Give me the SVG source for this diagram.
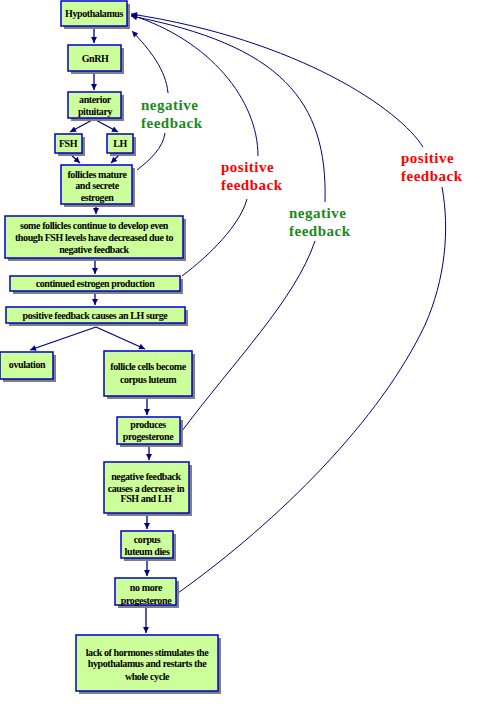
<svg xmlns="http://www.w3.org/2000/svg" width="492" height="704" viewBox="0 0 492 704">
<defs>
<marker id="ah" viewBox="0 0 10 10" refX="10" refY="5" markerWidth="7" markerHeight="6" orient="auto" markerUnits="userSpaceOnUse">
<path d="M0,0 L10,5 L0,10 z" fill="#000080"/>
</marker>
<style>
.sh{fill:#808080}
.bx{fill:#ccff99;stroke:#0000cc;stroke-width:1.5}
.t{font-family:"Liberation Serif","Times New Roman",serif;font-weight:bold;font-size:10px;letter-spacing:-0.4px;text-anchor:middle;fill:#000}
.c{fill:none;stroke:#000080;stroke-width:1.3;marker-end:url(#ah)}
.f{fill:none;stroke:#000080;stroke-width:1}
.fa{fill:none;stroke:#000080;stroke-width:1;marker-end:url(#ah)}
.lb{font-family:"Liberation Serif","Times New Roman",serif;font-weight:bold;font-size:15px;letter-spacing:0.5px}
.g{fill:#1a8a1a}
.r{fill:#ff0000}
</style>
</defs>
<rect width="492" height="704" fill="#fff"/>
<g id="connectors">
<path class="c" d="M94,27 L94,43"/>
<path class="c" d="M94,72 L94,90"/>
<path class="c" d="M94,119 L70,132"/>
<path class="c" d="M94,119 L118,132"/>
<path class="c" d="M70,154 L80,163"/>
<path class="c" d="M120,154 L111,163"/>
<path class="c" d="M96,205 L96,214"/>
<path class="c" d="M95,259 L95,274"/>
<path class="c" d="M95,292 L95,305"/>
<path class="c" d="M96,327 L30,350"/>
<path class="c" d="M96,327 L145,349"/>
<path class="c" d="M147,397 L147,415"/>
<path class="c" d="M149,445 L149,460"/>
<path class="c" d="M147,514 L147,529"/>
<path class="c" d="M147,559 L147,576"/>
<path class="c" d="M146,606 L146,633"/>
<path class="f" d="M137,170 C150,160 163,148 165,133"/>
<path class="fa" d="M168,93 C166,70 150,50 132,31"/>
<path class="f" d="M182,276 C210,255 240,225 247,199"/>
<path class="fa" d="M258,156 C258,100 210,40 131,15"/>
<path class="f" d="M182,431 C235,360 295,300 315,241"/>
<path class="fa" d="M325,202 C328,100 280,45 131,16"/>
<path class="f" d="M178,593 C280,520 380,420 425,325 C445,280 450,230 442,187"/>
<path class="fa" d="M423,147 C400,110 300,40 131,14"/>
</g>
<g id="labels">
<text class="lb g" x="141" y="110">negative</text>
<text class="lb g" x="141" y="128">feedback</text>
<text class="lb r" x="221" y="172">positive</text>
<text class="lb r" x="221" y="190">feedback</text>
<text class="lb g" x="289" y="218">negative</text>
<text class="lb g" x="289" y="236">feedback</text>
<text class="lb r" x="401" y="163">positive</text>
<text class="lb r" x="401" y="181">feedback</text>
</g>
<g id="n1"><rect class="sh" x="64" y="4" width="66" height="25"/><rect class="bx" x="61" y="1" width="66" height="25"/><text class="t" x="94" y="17">Hypothalamus</text></g>
<g id="n2"><rect class="sh" x="71" y="48" width="53" height="26"/><rect class="bx" x="68" y="45" width="53" height="26"/><text class="t" x="95" y="62">GnRH</text></g>
<g id="n3"><rect class="sh" x="71" y="95" width="53" height="26"/><rect class="bx" x="68" y="92" width="53" height="26"/><text class="t" x="95" y="103">anterior</text><text class="t" x="95" y="115">pituitary</text></g>
<g id="n4"><rect class="sh" x="58" y="137" width="27" height="19"/><rect class="bx" x="55" y="134" width="27" height="19"/><text class="t" x="68" y="147">FSH</text></g>
<g id="n5"><rect class="sh" x="110" y="137" width="26" height="19"/><rect class="bx" x="107" y="134" width="26" height="19"/><text class="t" x="120" y="147">LH</text></g>
<g id="n6"><rect class="sh" x="64" y="168" width="71" height="39"/><rect class="bx" x="61" y="165" width="71" height="39"/><text class="t" x="97" y="178">follicles mature</text><text class="t" x="97" y="189">and secrete</text><text class="t" x="97" y="201">estrogen</text></g>
<g id="n7"><rect class="sh" x="8" y="219" width="178" height="42"/><rect class="bx" x="5" y="216" width="178" height="42"/><text class="t" x="94" y="229">some follicles continue to develop even</text><text class="t" x="94" y="241">though FSH levels have decreased due to</text><text class="t" x="94" y="253">negative feedback</text></g>
<g id="n8"><rect class="sh" x="13" y="279" width="170" height="15"/><rect class="bx" x="10" y="276" width="170" height="15"/><text class="t" x="95" y="287">continued estrogen production</text></g>
<g id="n9"><rect class="sh" x="9" y="310" width="179" height="16"/><rect class="bx" x="6" y="307" width="179" height="16"/><text class="t" x="95" y="319">positive feedback causes an LH surge</text></g>
<g id="n10"><rect class="sh" x="3" y="355" width="53" height="27"/><rect class="bx" x="0" y="352" width="53" height="27"/><text class="t" x="27" y="368">ovulation</text></g>
<g id="n11"><rect class="sh" x="107" y="354" width="88" height="45"/><rect class="bx" x="104" y="351" width="88" height="45"/><text class="t" x="148" y="370">follicle cells become</text><text class="t" x="148" y="383">corpus luteum</text></g>
<g id="n12"><rect class="sh" x="120" y="420" width="63" height="27"/><rect class="bx" x="117" y="417" width="63" height="27"/><text class="t" x="148" y="428">produces</text><text class="t" x="148" y="440">progesterone</text></g>
<g id="n13"><rect class="sh" x="107" y="465" width="85" height="51"/><rect class="bx" x="104" y="462" width="85" height="51"/><text class="t" x="146" y="480">negative feedback</text><text class="t" x="146" y="492">causes a decrease in</text><text class="t" x="146" y="502">FSH and LH</text></g>
<g id="n14"><rect class="sh" x="124" y="534" width="52" height="27"/><rect class="bx" x="121" y="531" width="52" height="27"/><text class="t" x="147" y="543">corpus</text><text class="t" x="147" y="555">luteum dies</text></g>
<g id="n15"><rect class="sh" x="118" y="581" width="61" height="27"/><rect class="bx" x="115" y="578" width="61" height="27"/><text class="t" x="146" y="591">no more</text><text class="t" x="146" y="604">progesterone</text></g>
<g id="n16"><rect class="sh" x="79" y="638" width="142" height="56"/><rect class="bx" x="76" y="635" width="142" height="56"/><text class="t" x="147" y="656">lack of hormones stimulates the</text><text class="t" x="147" y="667">hypothalamus and restarts the</text><text class="t" x="147" y="680">whole cycle</text></g>
</svg>
